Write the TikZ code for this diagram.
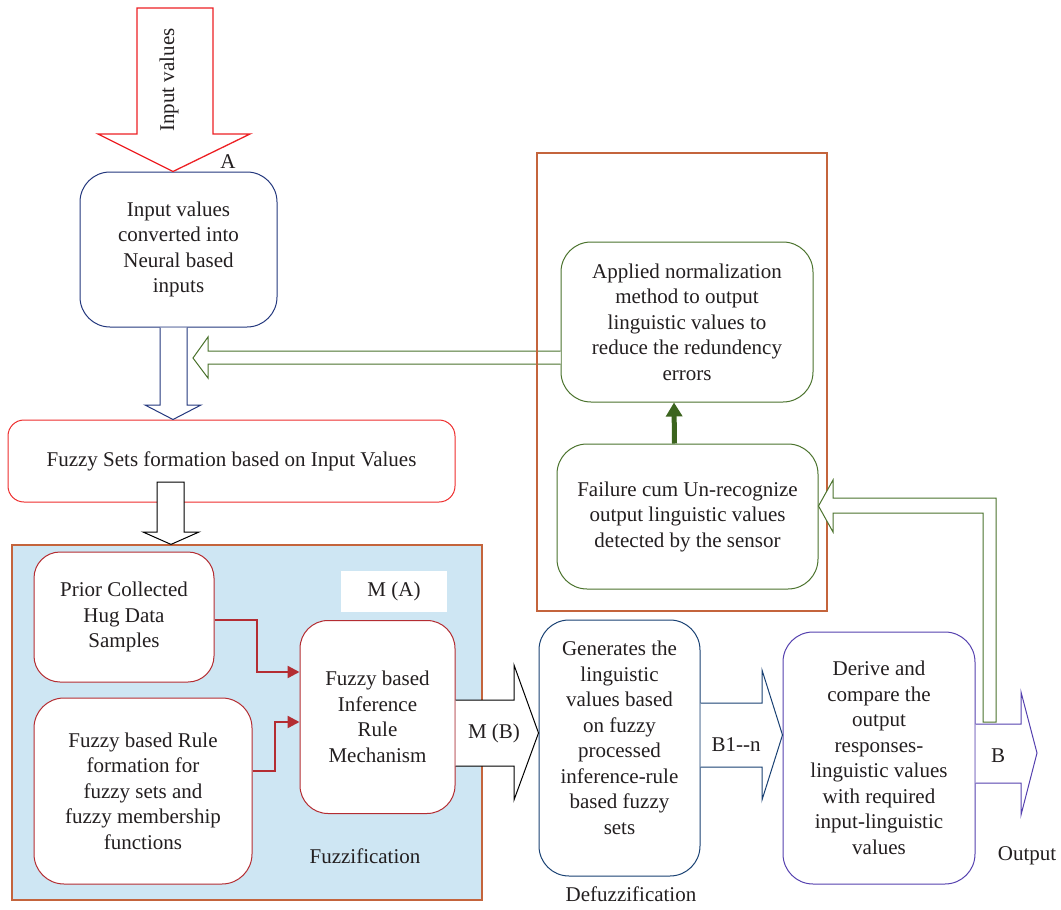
\documentclass[tikz,border=0pt]{standalone}
\usepackage{fontspec}
\setmainfont{Liberation Serif}
\usetikzlibrary{arrows.meta,calc}
\definecolor{inred}{RGB}{237,32,36}
\definecolor{navy}{RGB}{35,55,125}
\definecolor{setred}{RGB}{238,45,45}
\definecolor{fuzzfill}{RGB}{206,230,243}
\definecolor{rust}{RGB}{196,100,60}
\definecolor{darkred}{RGB}{180,45,50}
\definecolor{gennavy}{RGB}{25,65,115}
\definecolor{purp}{RGB}{85,65,175}
\definecolor{leaf}{RGB}{75,115,45}
\definecolor{thickgreen}{RGB}{60,100,30}
\definecolor{txtgray}{RGB}{35,31,32}

\begin{document}
\begin{tikzpicture}[x=1pt, y=-1pt, line width=1pt,
    font=\fontsize{21}{25.5}\selectfont,
    every node/.style={text=txtgray},
    box/.style={draw, fill=white, align=center, inner sep=0pt},
    redlink/.style={darkred, line width=2.4pt, -{Triangle[length=12pt,width=12pt]}}]
  \useasboundingbox (0,0) rectangle (1061,910);
  % fuzzification region
  \node[draw=rust, fill=fuzzfill, line width=1.2pt, minimum width=470pt, minimum height=355pt, inner sep=0pt] (fuzz) at (247,722.5) {};
  % boxes
  \node[box, draw=navy, rounded corners=30pt, minimum width=197pt, minimum height=155pt] (inp) at (178.5,249.5)
       {Input values\\converted into\\Neural based\\inputs};
  \node[box, draw=setred, rounded corners=16pt, minimum width=447pt, minimum height=82pt] (fset) at (231.5,461)
       {Fuzzy Sets formation based on Input Values};
  \node[box, draw=darkred, rounded corners=26pt, minimum width=180pt, minimum height=130pt] (prior) at (124,617)
       {Prior Collected\\Hug Data\\Samples};
  \node[box, draw=darkred, rounded corners=30pt, minimum width=218pt, minimum height=186pt] (rule) at (143,791)
       {Fuzzy based Rule\\formation for\\fuzzy sets and\\fuzzy membership\\functions};
  \node[fill=white, minimum width=106pt, minimum height=41pt, inner sep=0pt] (ma) at (394,591.5) {M (A)};
  \node[box, draw=darkred, rounded corners=28pt, minimum width=155pt, minimum height=193pt] (infer) at (377.5,717)
       {Fuzzy based\\Inference\\Rule\\Mechanism};
  \node (fzlbl) at (365,856) {Fuzzification};
  \node[box, draw=gennavy, rounded corners=30pt, minimum width=161pt, minimum height=256pt,
        label={[align=center, yshift=10pt]center:Generates the\\linguistic\\values based\\on fuzzy\\processed\\inference-rule\\based fuzzy\\sets}]
       (gen) at (619.5,748) {};
  \node[box, draw=purp, rounded corners=30pt, minimum width=192pt, minimum height=252pt] (derive) at (879,758)
       {Derive and\\compare the\\output\\responses-\\linguistic values\\with required\\input-linguistic\\values};
  \node[box, draw=leaf, rounded corners=30pt, minimum width=252pt, minimum height=160pt] (appl) at (687,322)
       {Applied normalization\\method to output\\linguistic values to\\reduce the redundency\\errors};
  \node[box, draw=leaf, rounded corners=30pt, minimum width=261pt, minimum height=145pt] (fail) at (687.5,516.5)
       {Failure cum Un-recognize\\output linguistic values\\detected by the sensor};
  \node (dflbl) at (631,894) {Defuzzification};
  \node (outlbl) at (1027,856) {Output};
  % input arrow
  \draw[inred, line width=1.3pt, fill=white] (137,8) -- (213,8) -- (213,134) -- (250,134) -- (inp.north -| 173,0)
       -- (98,134) -- (137,134) -- cycle;
  \node[rotate=90] (invals) at (169,80) {Input values};
  \node (alab) at (228,162) {A};
  % neural inputs -> fuzzy sets
  \draw[navy, fill=white] (inp.south -| 160,0) -- (160,405) -- (145,405) -- (fset.north -| 173,0)
       -- (201,405) -- (187,405) -- (inp.south -| 187,0);
  % fuzzy sets -> fuzzification
  \draw[black, fill=white] (157,482) -- (157,532) -- (143,532) -- (fuzz.north -| 171,0)
       -- (199,532) -- (184,532) -- (184,482) -- cycle;
  % normalization feedback
  \draw[leaf, fill=white] (appl.west |- 0,351) -- (208,351) -- (208,337) -- (193,358) -- (208,378)
       -- (208,364) -- (appl.west |- 0,364);
  \draw[rust, line width=1.2pt] (537,153) rectangle (827,611);
  % red links
  \draw[redlink] ([yshift=-3pt]prior.east) -| (257,672) -- ([yshift=45pt]infer.west);
  \draw[redlink] ([yshift=20pt]rule.east) -| (275,722) -- ([yshift=-5pt]infer.west);
  % M (B)
  \draw[black, fill=white] (infer.east |- 0,700) -- (514,700) -- (514,665) -- (gen.west |- 0,733)
       -- (514,800) -- (514,766) -- (infer.east |- 0,766);
  \node (mb) at (494,733) {M (B)};
  % B1--n
  \draw[gennavy, fill=white] (gen.east |- 0,703) -- (762,703) -- (762,670) -- (derive.west |- 0,735)
       -- (762,800) -- (762,767) -- (gen.east |- 0,767);
  \node (bn) at (736,745) {B1-{}-n};
  % B
  \draw[purp, fill=white] (derive.east |- 0,724) -- (1021,724) -- (1021,692) -- (1037,753)
       -- (1021,815) -- (1021,783) -- (derive.east |- 0,783);
  \node (blab) at (998,756) {B};
  % output back to sensor
  \draw[leaf, fill=white] (983,722) -- (996,722) -- (996,498) -- (833,498) -- (833,480) -- (fail.east |- 0,506)
       -- (833,532) -- (833,513) -- (983,513) -- cycle;
  \draw[thickgreen, line width=5pt, -{Triangle[length=14pt,width=16pt]}] ([xshift=-13pt]fail.north) -- ([xshift=-13pt]appl.south);
\end{tikzpicture}
\end{document}
